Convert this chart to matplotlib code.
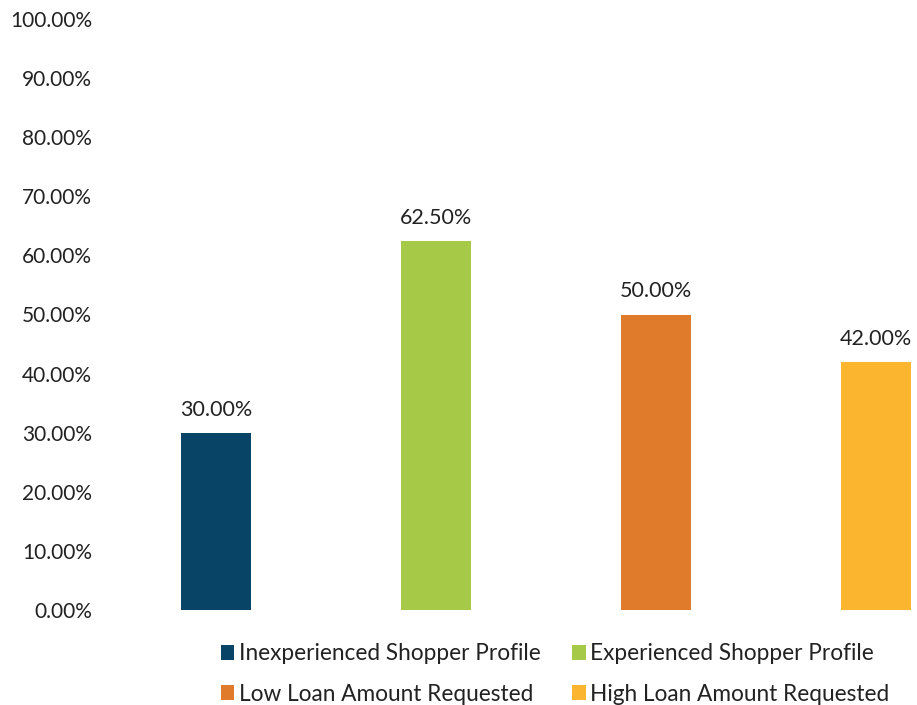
import matplotlib
matplotlib.use("Agg")
import matplotlib.pyplot as plt
from matplotlib.patches import Patch

categories = ["Inexperienced Shopper Profile", "Experienced Shopper Profile",
              "Low Loan Amount Requested", "High Loan Amount Requested"]
values = [30.0, 62.5, 50.0, 42.0]
colors = ["#084466", "#a6ca48", "#e07b2b", "#fcb52f"]
yticks = [0, 10, 20, 30, 40, 50, 60, 70, 80, 90, 100]

plt.rcParams['font.family'] = ['Lato', 'DejaVu Sans']

fig = plt.figure(figsize=(9.17, 7.05), dpi=100)
ax = fig.add_axes([106 / 917, (705 - 610) / 705, (917 - 106) / 917, 591 / 705])

x = list(range(len(values)))
ax.bar(x, values, width=0.32, color=colors)
for xi, v in zip(x, values):
    ax.text(xi, v + 2.2, "{:.2f}%".format(v), ha="center", va="bottom",
            fontsize=15.5, color="#222222")

ax.set_xlim(-0.5, 3.186)
ax.set_ylim(0, 100)
ax.set_yticks(yticks)
ax.set_yticklabels(["{:.2f}%".format(t) for t in yticks], fontsize=15, color="#222222")
ax.set_xticks([])
ax.tick_params(axis="y", length=0, pad=10)
for s in ax.spines.values():
    s.set_visible(False)

handles = [Patch(facecolor=c, label=l) for c, l in zip(colors, categories)]
# legend order: row-wise, two columns
order = [0, 2, 1, 3]
fig.legend([handles[i] for i in order], [categories[i] for i in order],
           ncol=2, loc="center", bbox_to_anchor=(555 / 917, 1 - 674 / 705),
           frameon=False, fontsize=16.3, handlelength=0.6, handleheight=0.6,
           handletextpad=0.2, columnspacing=1.4, labelspacing=0.85,
           labelcolor="#222222")

plt.savefig("out.png", dpi=100)
